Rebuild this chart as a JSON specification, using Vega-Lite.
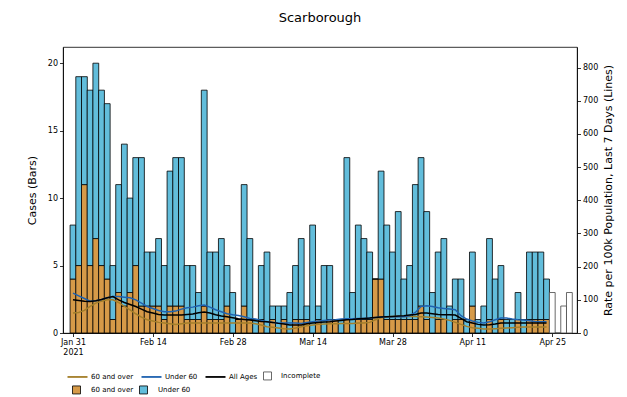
{
  "$schema": "https://vega.github.io/schema/vega-lite/v6.json",
  "width": 514,
  "height": 286,
  "autosize": "none",
  "padding": {"left": 63, "top": 47, "right": 50, "bottom": 64},
  "title": {"text": "Scarborough", "fontSize": 13, "fontWeight": "normal", "font": "DejaVu Sans", "color": "black", "offset": 22},
  "config": {
    "font": "DejaVu Sans",
    "view": {"stroke": "black", "strokeWidth": 0.8},
    "axis": {"grid": false, "domainColor": "black", "tickColor": "black", "labelColor": "black", "titleColor": "black", "labelFontSize": 8, "titleFontSize": 11, "titleFontWeight": "normal", "tickSize": 3.5, "domainWidth": 0.8, "tickWidth": 0.8},
    "legend": {"labelFontSize": 7, "labelColor": "black"}
  },
  "datasets": {
    "bars": [
      {"date": "2021/01/31", "60 and over": 4, "Under 60": 4},
      {"date": "2021/02/01", "60 and over": 5, "Under 60": 14},
      {"date": "2021/02/02", "60 and over": 11, "Under 60": 8},
      {"date": "2021/02/03", "60 and over": 5, "Under 60": 13},
      {"date": "2021/02/04", "60 and over": 7, "Under 60": 13},
      {"date": "2021/02/05", "60 and over": 5, "Under 60": 13},
      {"date": "2021/02/06", "60 and over": 4, "Under 60": 13},
      {"date": "2021/02/07", "60 and over": 1, "Under 60": 4},
      {"date": "2021/02/08", "60 and over": 3, "Under 60": 8},
      {"date": "2021/02/09", "60 and over": 2, "Under 60": 12},
      {"date": "2021/02/10", "60 and over": 3, "Under 60": 7},
      {"date": "2021/02/11", "60 and over": 5, "Under 60": 8},
      {"date": "2021/02/12", "60 and over": 2, "Under 60": 11},
      {"date": "2021/02/13", "60 and over": 2, "Under 60": 4},
      {"date": "2021/02/14", "60 and over": 2, "Under 60": 4},
      {"date": "2021/02/15", "60 and over": 2, "Under 60": 5},
      {"date": "2021/02/16", "60 and over": 1, "Under 60": 4},
      {"date": "2021/02/17", "60 and over": 2, "Under 60": 10},
      {"date": "2021/02/18", "60 and over": 2, "Under 60": 11},
      {"date": "2021/02/19", "60 and over": 2, "Under 60": 11},
      {"date": "2021/02/20", "60 and over": 1, "Under 60": 4},
      {"date": "2021/02/21", "60 and over": 1, "Under 60": 4},
      {"date": "2021/02/22", "60 and over": 1, "Under 60": 2},
      {"date": "2021/02/23", "60 and over": 2, "Under 60": 16},
      {"date": "2021/02/24", "60 and over": 1, "Under 60": 5},
      {"date": "2021/02/25", "60 and over": 1, "Under 60": 5},
      {"date": "2021/02/26", "60 and over": 1, "Under 60": 6},
      {"date": "2021/02/27", "60 and over": 2, "Under 60": 3},
      {"date": "2021/02/28", "60 and over": 0, "Under 60": 3},
      {"date": "2021/03/01", "60 and over": 1, "Under 60": 0},
      {"date": "2021/03/02", "60 and over": 2, "Under 60": 9},
      {"date": "2021/03/03", "60 and over": 1, "Under 60": 6},
      {"date": "2021/03/04", "60 and over": 0, "Under 60": 1},
      {"date": "2021/03/05", "60 and over": 1, "Under 60": 4},
      {"date": "2021/03/06", "60 and over": 0, "Under 60": 6},
      {"date": "2021/03/07", "60 and over": 1, "Under 60": 1},
      {"date": "2021/03/08", "60 and over": 0, "Under 60": 2},
      {"date": "2021/03/09", "60 and over": 1, "Under 60": 1},
      {"date": "2021/03/10", "60 and over": 0, "Under 60": 3},
      {"date": "2021/03/11", "60 and over": 1, "Under 60": 4},
      {"date": "2021/03/12", "60 and over": 1, "Under 60": 6},
      {"date": "2021/03/13", "60 and over": 1, "Under 60": 1},
      {"date": "2021/03/14", "60 and over": 0, "Under 60": 8},
      {"date": "2021/03/15", "60 and over": 1, "Under 60": 1},
      {"date": "2021/03/16", "60 and over": 0, "Under 60": 5},
      {"date": "2021/03/17", "60 and over": 1, "Under 60": 4},
      {"date": "2021/03/18", "60 and over": 1, "Under 60": 0},
      {"date": "2021/03/19", "60 and over": 0, "Under 60": 1},
      {"date": "2021/03/20", "60 and over": 1, "Under 60": 12},
      {"date": "2021/03/21", "60 and over": 0, "Under 60": 3},
      {"date": "2021/03/22", "60 and over": 1, "Under 60": 7},
      {"date": "2021/03/23", "60 and over": 1, "Under 60": 6},
      {"date": "2021/03/24", "60 and over": 1, "Under 60": 5},
      {"date": "2021/03/25", "60 and over": 4, "Under 60": 0},
      {"date": "2021/03/26", "60 and over": 4, "Under 60": 8},
      {"date": "2021/03/27", "60 and over": 1, "Under 60": 7},
      {"date": "2021/03/28", "60 and over": 1, "Under 60": 5},
      {"date": "2021/03/29", "60 and over": 1, "Under 60": 8},
      {"date": "2021/03/30", "60 and over": 1, "Under 60": 3},
      {"date": "2021/03/31", "60 and over": 1, "Under 60": 4},
      {"date": "2021/04/01", "60 and over": 1, "Under 60": 10},
      {"date": "2021/04/02", "60 and over": 2, "Under 60": 11},
      {"date": "2021/04/03", "60 and over": 1, "Under 60": 8},
      {"date": "2021/04/04", "60 and over": 0, "Under 60": 3},
      {"date": "2021/04/05", "60 and over": 1, "Under 60": 5},
      {"date": "2021/04/06", "60 and over": 1, "Under 60": 6},
      {"date": "2021/04/07", "60 and over": 0, "Under 60": 2},
      {"date": "2021/04/08", "60 and over": 1, "Under 60": 3},
      {"date": "2021/04/09", "60 and over": 1, "Under 60": 3},
      {"date": "2021/04/10", "60 and over": 0, "Under 60": 1},
      {"date": "2021/04/11", "60 and over": 2, "Under 60": 4},
      {"date": "2021/04/12", "60 and over": 0, "Under 60": 1},
      {"date": "2021/04/13", "60 and over": 0, "Under 60": 2},
      {"date": "2021/04/14", "60 and over": 1, "Under 60": 6},
      {"date": "2021/04/15", "60 and over": 0, "Under 60": 4},
      {"date": "2021/04/16", "60 and over": 1, "Under 60": 4},
      {"date": "2021/04/17", "60 and over": 0, "Under 60": 1},
      {"date": "2021/04/18", "60 and over": 0, "Under 60": 1},
      {"date": "2021/04/19", "60 and over": 1, "Under 60": 2},
      {"date": "2021/04/20", "60 and over": 0, "Under 60": 1},
      {"date": "2021/04/21", "60 and over": 1, "Under 60": 5},
      {"date": "2021/04/22", "60 and over": 1, "Under 60": 5},
      {"date": "2021/04/23", "60 and over": 1, "Under 60": 5},
      {"date": "2021/04/24", "60 and over": 1, "Under 60": 3}
    ],
    "incomplete": [
      {"date": "2021/04/25", "cases": 3},
      {"date": "2021/04/26", "cases": 0},
      {"date": "2021/04/27", "cases": 2},
      {"date": "2021/04/28", "cases": 3}
    ],
    "rates": [
      {"date": "2021/01/31", "60 and over": 60, "Under 60": 120, "All Ages": 100},
      {"date": "2021/02/01", "60 and over": 62, "Under 60": 112, "All Ages": 98},
      {"date": "2021/02/02", "60 and over": 68, "Under 60": 104, "All Ages": 96},
      {"date": "2021/02/03", "60 and over": 80, "Under 60": 96, "All Ages": 95},
      {"date": "2021/02/04", "60 and over": 90, "Under 60": 97, "All Ages": 97},
      {"date": "2021/02/05", "60 and over": 96, "Under 60": 101, "All Ages": 101},
      {"date": "2021/02/06", "60 and over": 100, "Under 60": 106, "All Ages": 106},
      {"date": "2021/02/07", "60 and over": 100, "Under 60": 110, "All Ages": 110},
      {"date": "2021/02/08", "60 and over": 92, "Under 60": 110, "All Ages": 100},
      {"date": "2021/02/09", "60 and over": 80, "Under 60": 108, "All Ages": 92},
      {"date": "2021/02/10", "60 and over": 70, "Under 60": 106, "All Ages": 86},
      {"date": "2021/02/11", "60 and over": 58, "Under 60": 100, "All Ages": 80},
      {"date": "2021/02/12", "60 and over": 48, "Under 60": 90, "All Ages": 72},
      {"date": "2021/02/13", "60 and over": 40, "Under 60": 80, "All Ages": 64},
      {"date": "2021/02/14", "60 and over": 36, "Under 60": 74, "All Ages": 60},
      {"date": "2021/02/15", "60 and over": 32, "Under 60": 68, "All Ages": 56},
      {"date": "2021/02/16", "60 and over": 30, "Under 60": 64, "All Ages": 54},
      {"date": "2021/02/17", "60 and over": 28, "Under 60": 64, "All Ages": 54},
      {"date": "2021/02/18", "60 and over": 26, "Under 60": 66, "All Ages": 54},
      {"date": "2021/02/19", "60 and over": 28, "Under 60": 72, "All Ages": 54},
      {"date": "2021/02/20", "60 and over": 30, "Under 60": 76, "All Ages": 56},
      {"date": "2021/02/21", "60 and over": 30, "Under 60": 78, "All Ages": 57},
      {"date": "2021/02/22", "60 and over": 30, "Under 60": 82, "All Ages": 61},
      {"date": "2021/02/23", "60 and over": 30, "Under 60": 84, "All Ages": 63},
      {"date": "2021/02/24", "60 and over": 30, "Under 60": 78, "All Ages": 60},
      {"date": "2021/02/25", "60 and over": 30, "Under 60": 70, "All Ages": 55},
      {"date": "2021/02/26", "60 and over": 30, "Under 60": 64, "All Ages": 51},
      {"date": "2021/02/27", "60 and over": 30, "Under 60": 58, "All Ages": 49},
      {"date": "2021/02/28", "60 and over": 30, "Under 60": 55, "All Ages": 46},
      {"date": "2021/03/01", "60 and over": 30, "Under 60": 53, "All Ages": 43},
      {"date": "2021/03/02", "60 and over": 30, "Under 60": 49, "All Ages": 41},
      {"date": "2021/03/03", "60 and over": 30, "Under 60": 44, "All Ages": 39},
      {"date": "2021/03/04", "60 and over": 28, "Under 60": 42, "All Ages": 37},
      {"date": "2021/03/05", "60 and over": 24, "Under 60": 38, "All Ages": 35},
      {"date": "2021/03/06", "60 and over": 19, "Under 60": 34, "All Ages": 34},
      {"date": "2021/03/07", "60 and over": 17, "Under 60": 32, "All Ages": 32},
      {"date": "2021/03/08", "60 and over": 15, "Under 60": 30, "All Ages": 29},
      {"date": "2021/03/09", "60 and over": 13, "Under 60": 30, "All Ages": 27},
      {"date": "2021/03/10", "60 and over": 12, "Under 60": 30, "All Ages": 24},
      {"date": "2021/03/11", "60 and over": 15, "Under 60": 30, "All Ages": 24},
      {"date": "2021/03/12", "60 and over": 19, "Under 60": 29, "All Ages": 24},
      {"date": "2021/03/13", "60 and over": 22, "Under 60": 32, "All Ages": 28},
      {"date": "2021/03/14", "60 and over": 24, "Under 60": 34, "All Ages": 30},
      {"date": "2021/03/15", "60 and over": 26, "Under 60": 36, "All Ages": 32},
      {"date": "2021/03/16", "60 and over": 27, "Under 60": 38, "All Ages": 33},
      {"date": "2021/03/17", "60 and over": 28, "Under 60": 39, "All Ages": 34},
      {"date": "2021/03/18", "60 and over": 28, "Under 60": 40, "All Ages": 36},
      {"date": "2021/03/19", "60 and over": 29, "Under 60": 42, "All Ages": 38},
      {"date": "2021/03/20", "60 and over": 29, "Under 60": 43, "All Ages": 40},
      {"date": "2021/03/21", "60 and over": 29, "Under 60": 43, "All Ages": 41},
      {"date": "2021/03/22", "60 and over": 30, "Under 60": 44, "All Ages": 43},
      {"date": "2021/03/23", "60 and over": 30, "Under 60": 44, "All Ages": 44},
      {"date": "2021/03/24", "60 and over": 32, "Under 60": 45, "All Ages": 45},
      {"date": "2021/03/25", "60 and over": 40, "Under 60": 47, "All Ages": 47},
      {"date": "2021/03/26", "60 and over": 46, "Under 60": 48, "All Ages": 48},
      {"date": "2021/03/27", "60 and over": 49, "Under 60": 49, "All Ages": 49},
      {"date": "2021/03/28", "60 and over": 50, "Under 60": 49, "All Ages": 50},
      {"date": "2021/03/29", "60 and over": 50, "Under 60": 49, "All Ages": 51},
      {"date": "2021/03/30", "60 and over": 50, "Under 60": 49, "All Ages": 52},
      {"date": "2021/03/31", "60 and over": 50, "Under 60": 52, "All Ages": 54},
      {"date": "2021/04/01", "60 and over": 50, "Under 60": 62, "All Ages": 56},
      {"date": "2021/04/02", "60 and over": 49, "Under 60": 80, "All Ages": 60},
      {"date": "2021/04/03", "60 and over": 48, "Under 60": 82, "All Ages": 60},
      {"date": "2021/04/04", "60 and over": 47, "Under 60": 80, "All Ages": 58},
      {"date": "2021/04/05", "60 and over": 45, "Under 60": 76, "All Ages": 56},
      {"date": "2021/04/06", "60 and over": 42, "Under 60": 74, "All Ages": 55},
      {"date": "2021/04/07", "60 and over": 38, "Under 60": 72, "All Ages": 55},
      {"date": "2021/04/08", "60 and over": 32, "Under 60": 70, "All Ages": 54},
      {"date": "2021/04/09", "60 and over": 26, "Under 60": 52, "All Ages": 44},
      {"date": "2021/04/10", "60 and over": 20, "Under 60": 42, "All Ages": 34},
      {"date": "2021/04/11", "60 and over": 16, "Under 60": 36, "All Ages": 30},
      {"date": "2021/04/12", "60 and over": 14, "Under 60": 32, "All Ages": 26},
      {"date": "2021/04/13", "60 and over": 12, "Under 60": 30, "All Ages": 24},
      {"date": "2021/04/14", "60 and over": 12, "Under 60": 34, "All Ages": 25},
      {"date": "2021/04/15", "60 and over": 13, "Under 60": 40, "All Ages": 27},
      {"date": "2021/04/16", "60 and over": 14, "Under 60": 45, "All Ages": 30},
      {"date": "2021/04/17", "60 and over": 15, "Under 60": 45, "All Ages": 30},
      {"date": "2021/04/18", "60 and over": 16, "Under 60": 42, "All Ages": 30},
      {"date": "2021/04/19", "60 and over": 17, "Under 60": 40, "All Ages": 30},
      {"date": "2021/04/20", "60 and over": 18, "Under 60": 39, "All Ages": 30},
      {"date": "2021/04/21", "60 and over": 18, "Under 60": 37, "All Ages": 30},
      {"date": "2021/04/22", "60 and over": 18, "Under 60": 35, "All Ages": 30},
      {"date": "2021/04/23", "60 and over": 18, "Under 60": 34, "All Ages": 30},
      {"date": "2021/04/24", "60 and over": 18, "Under 60": 34, "All Ages": 30}
    ]
  },
  "layer": [
    {
      "layer": [
        {
          "data": {"name": "bars"},
          "transform": [{"fold": ["60 and over", "Under 60"], "as": ["group", "cases"]}],
          "mark": {"type": "bar", "width": 5.8, "stroke": "black", "strokeWidth": 0.8},
          "encoding": {
            "x": {
              "field": "date", "type": "temporal",
              "scale": {"domain": [{"year": 2021, "month": 1, "date": 30, "hours": 3}, {"year": 2021, "month": 4, "date": 28, "hours": 11}]},
              "axis": {
                "title": null,
                "values": [{"year": 2021, "month": 1, "date": 31}, {"year": 2021, "month": 2, "date": 14}, {"year": 2021, "month": 2, "date": 28}, {"year": 2021, "month": 3, "date": 14}, {"year": 2021, "month": 3, "date": 28}, {"year": 2021, "month": 4, "date": 11}, {"year": 2021, "month": 4, "date": 25}],
                "labelExpr": "month(datum.value) == 0 ? [timeFormat(datum.value, '%b %d'), '2021'] : timeFormat(datum.value, '%b %d')",
                "labelFlush": false,
                "labelOverlap": false,
                "labelPadding": 2
              }
            },
            "y": {
              "field": "cases", "type": "quantitative", "stack": "zero",
              "scale": {"domain": [0, 21.2], "nice": false},
              "axis": {"title": "Cases (Bars)", "values": [0, 5, 10, 15, 20], "titlePadding": 10}
            },
            "fill": {
              "field": "group", "type": "nominal",
              "scale": {"domain": ["60 and over", "Under 60"], "range": ["#d69a48", "#62bddb"]},
              "legend": {"orient": "none", "legendX": 9, "legendY": 338, "direction": "horizontal", "title": null, "symbolType": "square", "symbolSize": 64, "symbolStrokeColor": "black", "symbolStrokeWidth": 0.8, "labelOffset": 10, "columnPadding": 3}
            },
            "order": {"field": "group", "sort": "ascending"}
          }
        },
        {
          "data": {"name": "incomplete"},
          "mark": {"type": "bar", "width": 5.8, "fill": "white", "strokeWidth": 0.8},
          "encoding": {
            "x": {"field": "date", "type": "temporal"},
            "y": {"field": "cases", "type": "quantitative"},
            "stroke": {"datum": "Incomplete", "type": "nominal"}
          }
        }
      ]
    },
    {
      "data": {"name": "rates"},
      "transform": [{"fold": ["60 and over", "Under 60", "All Ages"], "as": ["series", "rate"]}],
      "mark": {"type": "line", "strokeWidth": 1.5},
      "encoding": {
        "x": {"field": "date", "type": "temporal"},
        "y": {
          "field": "rate", "type": "quantitative",
          "scale": {"domain": [0, 862], "nice": false},
          "axis": {"orient": "right", "title": "Rate per 100k Population, Last 7 Days (Lines)", "values": [0, 100, 200, 300, 400, 500, 600, 700, 800], "titleAngle": 270, "titlePadding": 16}
        },
        "stroke": {
          "field": "series", "type": "nominal",
          "scale": {"domain": ["60 and over", "Under 60", "All Ages", "Incomplete"], "range": ["#a47f2a", "#1f62b0", "#000000", "#444444"]},
          "legend": {
            "orient": "none", "legendX": 11, "legendY": 325, "direction": "horizontal", "title": null,
            "symbolType": "stroke", "symbolSize": 400, "symbolStrokeWidth": 1.8, "labelOffset": 10, "columnPadding": 3,
            "encode": {"symbols": {"update": {
              "shape": {"signal": "datum.value === 'Incomplete' ? 'square' : 'stroke'"},
              "size": {"signal": "datum.value === 'Incomplete' ? 64 : 400"},
              "fill": {"signal": "datum.value === 'Incomplete' ? '#ffffff' : 'transparent'"},
              "strokeWidth": {"signal": "datum.value === 'Incomplete' ? 0.8 : 1.8"}
            }}}
          }
        }
      }
    }
  ],
  "resolve": {"scale": {"y": "independent"}}
}
